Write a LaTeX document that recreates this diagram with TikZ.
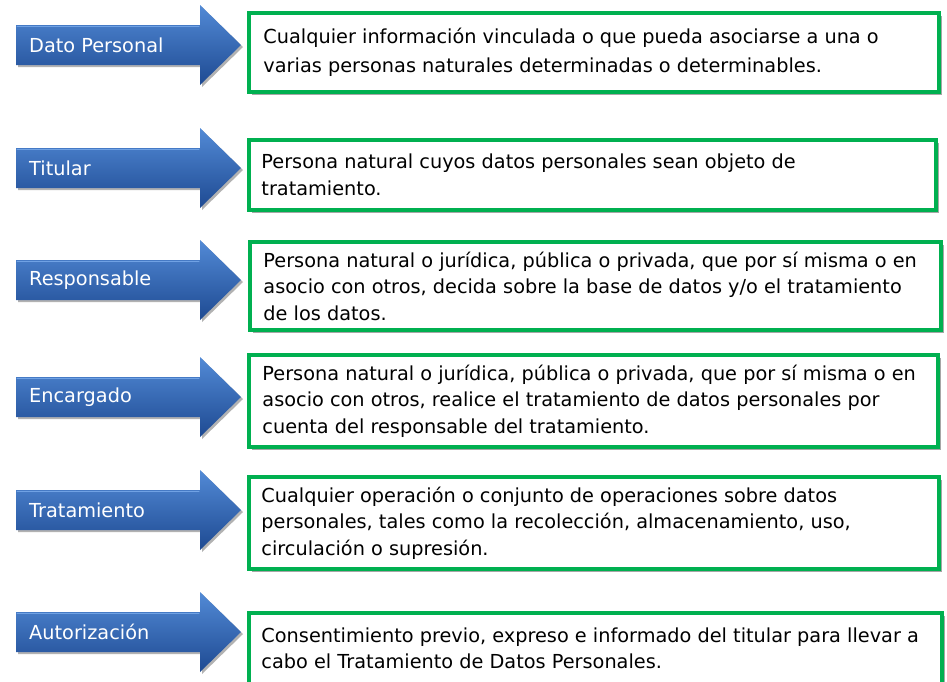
\documentclass[tikz,border=0pt]{standalone}
\usepackage{fontspec}
\setmainfont{DejaVu Sans}
\usetikzlibrary{shadows,fit,calc}
\definecolor{boxgreen}{RGB}{0,176,80}
\definecolor{arrtop}{RGB}{82,138,214}
\definecolor{arrmid}{RGB}{56,110,192}
\definecolor{arrbot}{RGB}{30,74,146}
\definecolor{arredge}{RGB}{112,162,228}
\tikzset{
  defbox/.style={draw=boxgreen, line width=3.5pt, fill=white, rectangle, inner sep=0pt,
    drop shadow={shadow xshift=3pt, shadow yshift=-3pt, opacity=0.35, fill=black}},
  deftext/.style={anchor=west, align=left, inner sep=0pt, text=black,
    font=\fontsize{19.3}{26.5}\selectfont},
  arrowshape/.style={top color=arrtop, middle color=arrmid, bottom color=arrbot,
    drop shadow={shadow xshift=2pt, shadow yshift=-2pt, opacity=0.3, fill=black}},
  arrhigh/.style={draw=arredge, line width=1pt, line cap=round},
  arrlabel/.style={anchor=west, text=white, inner sep=0pt,
    font=\fontsize{19.3}{22}\selectfont}
}
\newcommand\mkarrow[3]{%
  \path[arrowshape] (16,#2-20) -- (200,#2-20) -- (200,#2-40) -- (241,#2)
     -- (200,#2+40) -- (200,#2+20) -- (16,#2+20) -- cycle;
  \path[arrhigh] (17,#2-19) -- (199,#2-19);
  \node[arrlabel] (#1) at (29,#2) {#3};
}
\newcommand\mkbox[7]{%
  \coordinate (#1a) at (#2,#3);
  \coordinate (#1b) at (#4,#5);
  \node[defbox, fit=(#1a)(#1b)] (#1) {};
  \node[deftext] (#1t) at ($(#1.west)+(#6pt,0)$) {#7};
}
\begin{document}
\begin{tikzpicture}[x=1pt,y=-1pt]
\useasboundingbox (0,0) rectangle (947,681);
\clip (0,0) rectangle (947,681);
\fill[white] (0,0) rectangle (947,681);

\mkarrow{a1}{45}{Dato Personal}
\mkarrow{a2}{168}{Titular}
\mkarrow{a3}{280}{Responsable}
\mkarrow{a4}{397}{Encargado}
\mkarrow{a5}{510}{Tratamiento}
\mkarrow{a6}{632}{Autorización}

\mkbox{b1}{249}{13}{939}{92}{16}{Cualquier información vinculada o que pueda asociarse a una o\\[3pt] varias personas naturales determinadas o determinables.}
\mkbox{b2}{249}{140}{936}{210}{14}{Persona natural cuyos datos personales sean objeto de\\ tratamiento.}
\mkbox{b3}{250}{242}{941}{330}{15}{Persona natural o jurídica, pública o privada, que por sí misma o en\\ asocio con otros, decida sobre la base de datos y/o el tratamiento\\ de los datos.}
\mkbox{b4}{249}{355}{938}{447}{15}{Persona natural o jurídica, pública o privada, que por sí misma o en\\ asocio con otros, realice el tratamiento de datos personales por\\ cuenta del responsable del tratamiento.}
\mkbox{b5}{249}{477}{939}{569}{14}{Cualquier operación o conjunto de operaciones sobre datos\\ personales, tales como la recolección, almacenamiento, uso,\\ circulación o supresión.}
\mkbox{b6}{249}{613}{942}{684}{14}{Consentimiento previo, expreso e informado del titular para llevar a\\ cabo el Tratamiento de Datos Personales.}
\end{tikzpicture}
\end{document}
